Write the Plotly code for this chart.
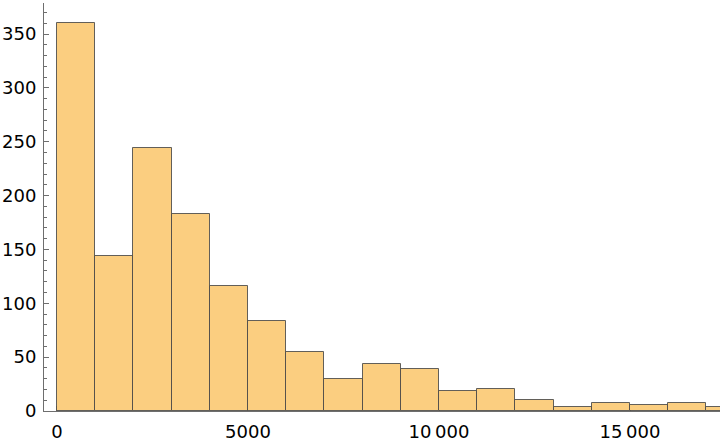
import plotly.graph_objects as go

bin_starts = [0, 1000, 2000, 3000, 4000, 5000, 6000, 7000, 8000, 9000,
              10000, 11000, 12000, 13000, 14000, 15000, 16000, 17000]
counts = [360, 144, 244, 183, 116, 84, 55, 30, 44, 39,
          19, 20, 10, 4, 7, 6, 7, 4]
bin_width = 1000
x_tick_vals = [0, 5000, 10000, 15000]
x_tick_text = ["0", "5000", "10\u2009000", "15\u2009000"]
y_tick_vals = [0, 50, 100, 150, 200, 250, 300, 350]

fig = go.Figure()
fig.add_trace(go.Bar(
    x=bin_starts, y=counts, width=[bin_width] * len(counts), offset=0,
    marker=dict(color="rgb(251,206,128)",
                line=dict(color="rgba(70,70,70,0.85)", width=1)),
    hoverinfo="x+y",
))

axis_col = "rgb(110,110,110)"
fig.update_layout(
    width=720, height=442,
    margin=dict(l=44, r=0, t=3, b=31),
    paper_bgcolor="white", plot_bgcolor="white",
    showlegend=False, bargap=0,
    font=dict(family="DejaVu Sans", size=18, color="black"),
    xaxis=dict(range=[-340, 17356], showgrid=False, zeroline=False,
               showline=True, linecolor=axis_col, linewidth=1,
               tickvals=x_tick_vals, ticktext=x_tick_text,
               ticks="inside", ticklen=5, tickcolor=axis_col,
               ticklabelstandoff=4,
               layer="below traces", automargin=False),
    yaxis=dict(range=[0, 378.8], showgrid=False, zeroline=False,
               showline=True, linecolor=axis_col, linewidth=1,
               tickvals=y_tick_vals,
               ticks="inside", ticklen=5, tickcolor=axis_col,
               ticklabelstandoff=3,
               minor=dict(dtick=10, ticks="inside", ticklen=3, tickcolor=axis_col),
               layer="below traces", automargin=False),
)
fig.write_html("out.html", config={"displayModeBar": False},
               post_script="document.body.style.margin='0';document.body.style.overflow='hidden';")
